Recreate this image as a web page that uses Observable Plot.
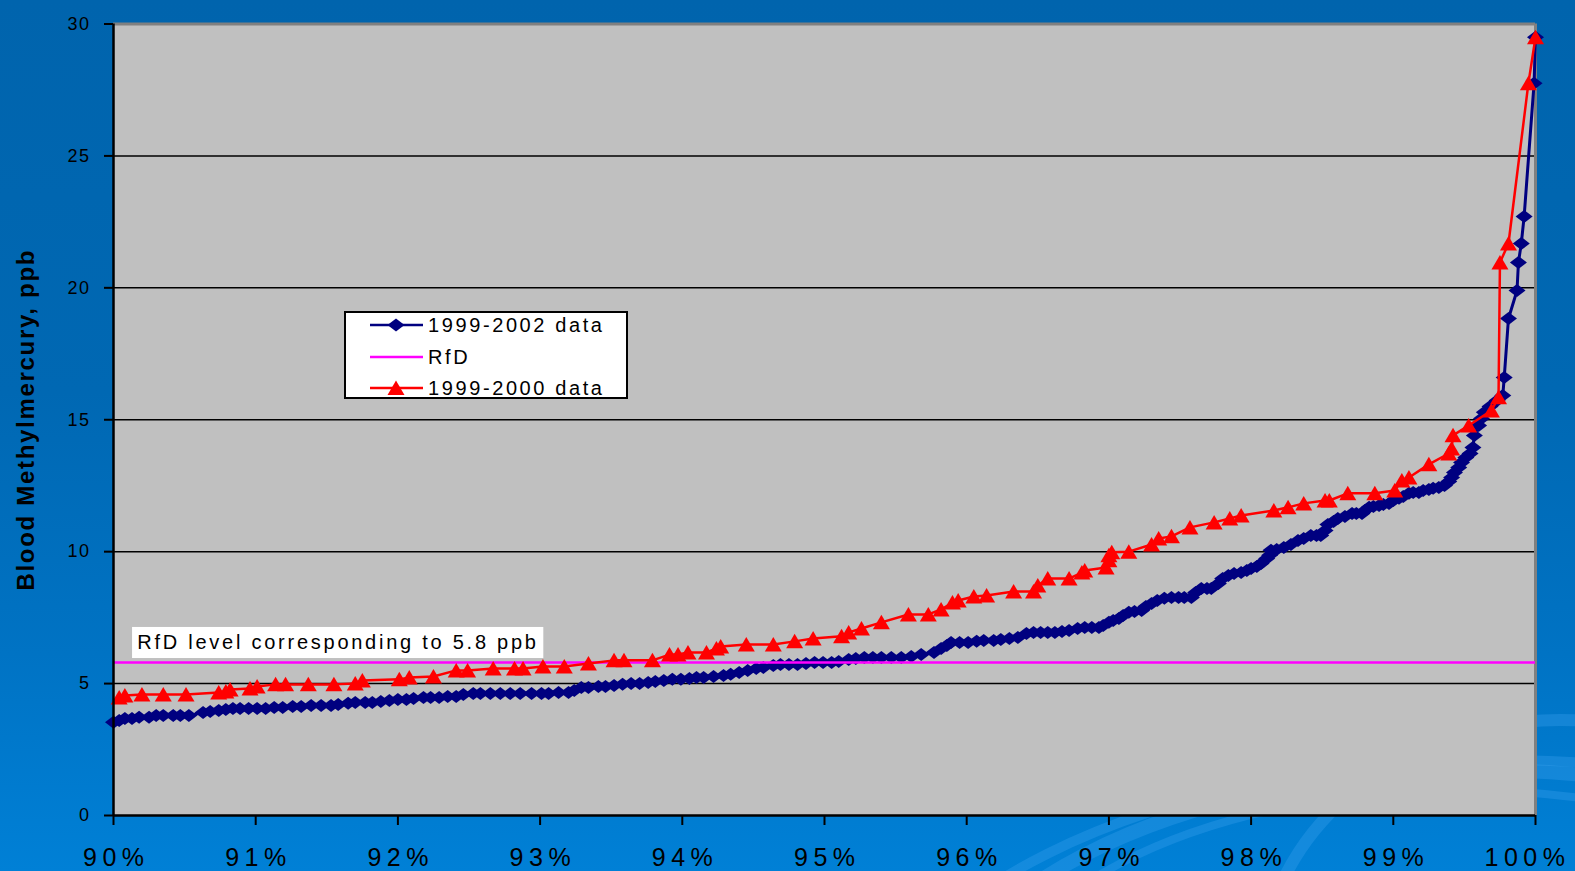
<!DOCTYPE html>
<html>
<head>
<meta charset="utf-8">
<script src="https://cdn.jsdelivr.net/npm/d3@7"></script>
<script src="https://cdn.jsdelivr.net/npm/@observablehq/plot@0.6"></script>
<style>
html, body { margin: 0; padding: 0; }
body { width: 1575px; height: 871px; overflow: hidden; font-family: "Liberation Sans", Arial, sans-serif; }
#wrap { position: relative; width: 1575px; height: 871px; overflow: hidden;
  background: linear-gradient(to bottom, #0064ad 0%, #0068b3 45%, #0073c4 75%, #0080d6 100%); }
#deco { position: absolute; left: 0; top: 0; }
#chart { position: absolute; left: 0; top: 0; }
#legend { position: absolute; left: 344px; top: 311px; }
</style>
</head>
<body>
<div id="wrap">
  <svg id="deco" width="1575" height="871"></svg>
  <div id="chart"></div>
  <svg id="legend" width="285" height="90"></svg>
</div>
<script>
// ---------------- data ----------------
const seriesNames = ["1999-2002 data", "RfD", "1999-2000 data"];
const yLabel = "Blood Methylmercury, ppb";
const annotationText = "RfD level corresponding to 5.8 ppb";
const rfdLevel = 5.8;
const xTicks = [90, 91, 92, 93, 94, 95, 96, 97, 98, 99, 100];
const yTicks = [0, 5, 10, 15, 20, 25, 30];
const gridValues = [5, 10, 15, 20, 25];

// 1999-2002 data (percentile, blood methylmercury ppb)
const pct2002 = [
  90.00, 90.04, 90.08, 90.13, 90.18, 90.25, 90.30, 90.35, 90.42, 90.47,
  90.53, 90.63, 90.68, 90.74, 90.79, 90.84, 90.89, 90.95, 91.01, 91.07,
  91.13, 91.19, 91.26, 91.32, 91.39, 91.46, 91.53, 91.58, 91.65, 91.70,
  91.77, 91.82, 91.88, 91.94, 92.00, 92.06, 92.11, 92.18, 92.23, 92.29,
  92.35, 92.41, 92.46, 92.53, 92.58, 92.65, 92.72, 92.79, 92.86, 92.94,
  93.01, 93.06, 93.13, 93.20, 93.24, 93.29, 93.34, 93.41, 93.46, 93.52,
  93.58, 93.64, 93.70, 93.76, 93.81, 93.87, 93.93, 93.99, 94.05, 94.10,
  94.15, 94.22, 94.29, 94.34, 94.40, 94.46, 94.52, 94.57, 94.64, 94.69,
  94.75, 94.81, 94.87, 94.93, 94.99, 95.05, 95.10, 95.17, 95.22, 95.28,
  95.34, 95.40, 95.47, 95.54, 95.61, 95.68, 95.77, 95.82, 95.86, 95.89,
  95.95, 96.01, 96.07, 96.12, 96.19, 96.24, 96.30, 96.36, 96.42, 96.47,
  96.52, 96.57, 96.62, 96.67, 96.72, 96.78, 96.83, 96.88, 96.93, 96.96,
  97.00, 97.03, 97.07, 97.10, 97.14, 97.18, 97.23, 97.26, 97.30, 97.34,
  97.39, 97.44, 97.49, 97.53, 97.58, 97.61, 97.65, 97.69, 97.72, 97.77,
  97.80, 97.84, 97.88, 97.93, 97.97, 98.00, 98.04, 98.07, 98.11, 98.13,
  98.14, 98.18, 98.23, 98.28, 98.33, 98.37, 98.42, 98.46, 98.49, 98.52,
  98.54, 98.58, 98.61, 98.66, 98.71, 98.74, 98.78, 98.80, 98.83, 98.86,
  98.90, 98.93, 98.97, 99.00, 99.04, 99.07, 99.11, 99.14, 99.18, 99.21,
  99.25, 99.28, 99.32, 99.36, 99.39, 99.41, 99.43, 99.46, 99.48, 99.51,
  99.54, 99.56, 99.57, 99.60, 99.62, 99.64, 99.68, 99.73, 99.77, 99.78,
  99.81, 99.87, 99.88, 99.90, 99.92, 99.99, 100.00
];
const val2002 = [
  3.53, 3.60, 3.68, 3.68, 3.72, 3.72, 3.79, 3.79, 3.79, 3.79,
  3.79, 3.90, 3.94, 3.98, 4.02, 4.06, 4.06, 4.06, 4.06, 4.06,
  4.09, 4.09, 4.13, 4.13, 4.17, 4.17, 4.17, 4.21, 4.25, 4.28,
  4.28, 4.28, 4.32, 4.36, 4.40, 4.40, 4.43, 4.47, 4.47, 4.47,
  4.51, 4.51, 4.59, 4.62, 4.62, 4.62, 4.62, 4.62, 4.62, 4.62,
  4.62, 4.62, 4.66, 4.66, 4.74, 4.85, 4.85, 4.89, 4.89, 4.93,
  4.97, 5.00, 5.00, 5.04, 5.08, 5.12, 5.16, 5.16, 5.19, 5.23,
  5.23, 5.27, 5.31, 5.35, 5.42, 5.50, 5.57, 5.61, 5.69, 5.72,
  5.72, 5.72, 5.76, 5.80, 5.80, 5.80, 5.84, 5.91, 5.95, 5.99,
  5.99, 5.99, 5.99, 5.99, 6.03, 6.10, 6.18, 6.33, 6.44, 6.56,
  6.56, 6.56, 6.60, 6.63, 6.63, 6.67, 6.71, 6.75, 6.90, 6.94,
  6.94, 6.94, 6.94, 6.97, 7.01, 7.09, 7.13, 7.13, 7.13, 7.20,
  7.32, 7.39, 7.47, 7.58, 7.70, 7.73, 7.77, 7.92, 8.04, 8.15,
  8.23, 8.26, 8.26, 8.26, 8.26, 8.45, 8.60, 8.60, 8.60, 8.79,
  8.98, 9.10, 9.17, 9.21, 9.29, 9.36, 9.44, 9.55, 9.74, 9.86,
  10.05, 10.08, 10.16, 10.27, 10.42, 10.50, 10.61, 10.61, 10.61, 10.80,
  11.03, 11.14, 11.26, 11.33, 11.45, 11.45, 11.45, 11.56, 11.68, 11.71,
  11.75, 11.79, 11.83, 11.94, 12.02, 12.09, 12.21, 12.24, 12.24, 12.32,
  12.36, 12.40, 12.43, 12.51, 12.66, 12.81, 13.00, 13.19, 13.38, 13.57,
  13.72, 13.95, 14.40, 14.78, 15.05, 15.28, 15.50, 15.73, 15.92, 16.60,
  18.84, 19.90, 20.96, 21.68, 22.70, 27.75, 29.50
];

// 1999-2000 data
const pct2000 = [
  90.04, 90.08, 90.20, 90.35, 90.51, 90.74, 90.79, 90.82, 90.96, 91.01,
  91.14, 91.21, 91.37, 91.55, 91.70, 91.75, 92.01, 92.08, 92.25, 92.41,
  92.49, 92.67, 92.82, 92.88, 93.02, 93.17, 93.34, 93.52, 93.59, 93.79,
  93.91, 93.97, 94.04, 94.17, 94.24, 94.27, 94.45, 94.64, 94.79, 94.92,
  95.12, 95.17, 95.26, 95.40, 95.59, 95.73, 95.82, 95.90, 95.94, 96.05,
  96.14, 96.33, 96.47, 96.50, 96.57, 96.72, 96.81, 96.83, 96.98, 97.00,
  97.00, 97.02, 97.14, 97.30, 97.35, 97.44, 97.57, 97.74, 97.85, 97.93,
  98.16, 98.26, 98.37, 98.52, 98.55, 98.68, 98.87, 99.01, 99.06, 99.11,
  99.25, 99.39, 99.41, 99.42, 99.53, 99.69, 99.74, 99.75, 99.81, 99.95,
  100.00
];
const val2000 = [
  4.47, 4.55, 4.59, 4.59, 4.59, 4.66, 4.70, 4.78, 4.81, 4.89,
  4.97, 4.97, 4.97, 4.97, 5.00, 5.12, 5.16, 5.23, 5.27, 5.50,
  5.50, 5.57, 5.57, 5.57, 5.65, 5.65, 5.76, 5.88, 5.88, 5.88,
  6.10, 6.10, 6.18, 6.18, 6.33, 6.41, 6.48, 6.48, 6.60, 6.71,
  6.79, 6.94, 7.09, 7.32, 7.62, 7.62, 7.81, 8.07, 8.15, 8.30,
  8.34, 8.49, 8.49, 8.72, 8.98, 8.98, 9.21, 9.29, 9.40, 9.67,
  9.86, 9.98, 10.00, 10.27, 10.50, 10.58, 10.92, 11.11, 11.26, 11.37,
  11.56, 11.68, 11.83, 11.94, 11.94, 12.21, 12.21, 12.32, 12.70, 12.81,
  13.31, 13.72, 13.91, 14.41, 14.78, 15.35, 15.85, 20.96, 21.68, 27.75,
  29.50
];

// annotation box (data units)
const annotation = { x1: 90.134, x2: 93.026, y1: 5.95, y2: 7.127, tx: 90.167, ty: 6.54, text: annotationText };

// ---------------- build ----------------
const d2002 = pct2002.map((p, i) => ({ pct: p, val: val2002[i] }));
const d2000 = pct2000.map((p, i) => ({ pct: p, val: val2000[i] }));

const NAVY = "#000080", RED = "#ff0000", MAGENTA = "#ff00ff";

const diamondSym = { draw(ctx) { ctx.moveTo(0, -6.5); ctx.lineTo(8.5, 0); ctx.lineTo(0, 6.5); ctx.lineTo(-8.5, 0); ctx.closePath(); } };
const triangleSym = { draw(ctx) { ctx.moveTo(0, -7.5); ctx.lineTo(8.5, 7); ctx.lineTo(-8.5, 7); ctx.closePath(); } };

const chart = Plot.plot({
  width: 1575, height: 871,
  marginLeft: 113, marginRight: 40, marginTop: 23.5, marginBottom: 56,
  x: { domain: [90, 100] },
  y: { domain: [0, 30] },
  style: { background: "transparent", color: "black", fontFamily: "'Liberation Sans', Arial, sans-serif" },
  marks: [
    Plot.frame({ fill: "#c0c0c0", stroke: "none" }),
    Plot.ruleY(gridValues, { stroke: "black", strokeWidth: 1.5 }),
    Plot.ruleY([yTicks[yTicks.length - 1]], { stroke: "#808080", strokeWidth: 3 }),
    Plot.ruleX([xTicks[xTicks.length - 1]], { stroke: "#808080", strokeWidth: 3 }),
    Plot.rect([annotation], { x1: d => d.x1, x2: d => d.x2, y1: d => d.y1, y2: d => d.y2, fill: "white" }),
    Plot.text([annotation], { x: d => d.tx, y: d => d.ty, text: d => d.text, textAnchor: "start", lineAnchor: "middle", fontSize: 20, fill: "black", className: "anno" }),
    Plot.line(d2002, { x: "pct", y: "val", stroke: NAVY, strokeWidth: 3 }),
    Plot.dot(d2002, { x: "pct", y: "val", symbol: diamondSym, fill: NAVY, stroke: "none" }),
    Plot.ruleY([rfdLevel], { stroke: MAGENTA, strokeWidth: 2.5 }),
    Plot.line(d2000, { x: "pct", y: "val", stroke: RED, strokeWidth: 2.5 }),
    Plot.dot(d2000, { x: "pct", y: "val", symbol: triangleSym, fill: RED, stroke: "none" }),
    Plot.ruleX([xTicks[0]], { stroke: "black", strokeWidth: 2.5 }),
    Plot.ruleY([yTicks[0]], { stroke: "black", strokeWidth: 2.5 }),
    Plot.axisX({ ticks: xTicks, tickFormat: d => d + "%", fontSize: 25, tickSize: 10, tickPadding: 23, strokeWidth: 2, label: null }),
    Plot.axisY({ ticks: yTicks, tickFormat: d => String(d), fontSize: 18, tickSize: 9, tickPadding: 14, strokeWidth: 2, label: null }),
    Plot.text([yLabel], { frameAnchor: "left", textAnchor: "middle", dx: -87, rotate: -90, fontSize: 24, fontWeight: "bold", fill: "black", className: "ylab" })
  ]
});
document.getElementById("chart").appendChild(chart);

const svg = d3.select(chart);
const xt = svg.selectAll('g[aria-label="x-axis tick label"] text').style("letter-spacing", "5.5px").attr("dx", 2.75);
const xtNodes = xt.nodes();
if (xtNodes.length) d3.select(xtNodes[xtNodes.length - 1]).attr("dx", -8);
svg.selectAll('g[aria-label="y-axis tick label"] text').style("letter-spacing", "1.5px");
svg.selectAll('.anno text').style("letter-spacing", "2.75px");
svg.selectAll('.ylab text').style("letter-spacing", "1.7px");

// decorative swirls in background
const deco = d3.select("#deco");
[[1480, 1060, 560, 290, 14], [1500, 1080, 640, 320, 10], [1460, 1040, 480, 250, 8], [1560, 980, 300, 260, 12]].forEach(([cx, cy, rx, ry, w]) => {
  deco.append("ellipse").attr("cx", cx).attr("cy", cy).attr("rx", rx).attr("ry", ry)
    .attr("fill", "none").attr("stroke", "#3aa0ee").attr("stroke-opacity", 0.35).attr("stroke-width", w);
});

// legend
const lg = d3.select("#legend");
lg.append("rect").attr("x", 1).attr("y", 1).attr("width", 282).attr("height", 86)
  .attr("fill", "white").attr("stroke", "black").attr("stroke-width", 2);
const rowsY = [14, 46, 77];
const colors = [NAVY, MAGENTA, RED];
const syms = [diamondSym, null, triangleSym];
seriesNames.forEach((name, i) => {
  const y = rowsY[i];
  lg.append("line").attr("x1", 26).attr("x2", 79).attr("y1", y).attr("y2", y)
    .attr("stroke", colors[i]).attr("stroke-width", 2.5);
  if (syms[i]) {
    const p = d3.path(); syms[i].draw(p);
    lg.append("path").attr("d", p.toString()).attr("transform", `translate(52,${y})`).attr("fill", colors[i]);
  }
  lg.append("text").attr("x", 84).attr("y", y + 7).text(name)
    .attr("font-size", 20).attr("font-family", "'Liberation Sans', Arial, sans-serif")
    .style("letter-spacing", "2.6px").attr("fill", "black");
});
</script>
</body>
</html>
